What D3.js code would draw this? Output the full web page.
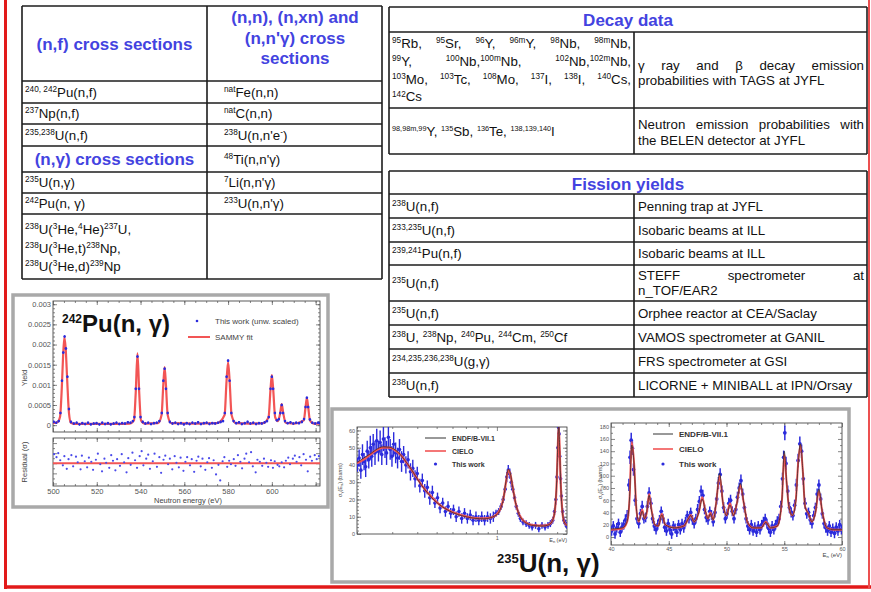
<!DOCTYPE html>
<html lang="en">
<head>
<meta charset="UTF-8">
<title>Nuclear data measurements</title>
<script src="https://d3js.org/d3.v7.min.js"></script>
<style>
  body { margin: 0; background: #fff; }
  svg { display: block; font-family: "Liberation Sans", Arial, sans-serif; }
  svg text { white-space: pre; fill: #111; }
  .head { font-weight: bold; }
  svg text.head, svg text.head tspan { fill: #4343e0; }
  .tick line { stroke: #555; stroke-width: 0.7; }
  .tick text { fill: #555; }
</style>
</head>
<body>
<div id="slide"></div>
<script>
// ---------- table contents ----------
var nfRows = ["^{240, 242}Pu(n,f)", "^{237}Np(n,f)", "^{235,238}U(n,f)"];
var inelRows = ["^{nat}Fe(n,n)", "^{nat}C(n,n)", "^{238}U(n,n'e^{-})", "^{48}Ti(n,n'γ)", "^{7}Li(n,n'γ)", "^{233}U(n,n'γ)"];
var ngRows = ["^{235}U(n,γ)", "^{242}Pu(n, γ)"];
var surrogateLines = ["^{238}U(^{3}He,^{4}He)^{237}U,", "^{238}U(^{3}He,t)^{238}Np,", "^{238}U(^{3}He,d)^{239}Np"];
var inelHeader = ["(n,n), (n,xn) and", "(n,n'γ) cross", "sections"];

var tagsNuclides = ["^{95}Rb, ^{95}Sr, ^{96}Y, ^{96m}Y, ^{98}Nb, ^{98m}Nb,",
                    "^{99}Y, ^{100}Nb,^{100m}Nb, ^{102}Nb,^{102m}Nb,",
                    "^{103}Mo, ^{103}Tc, ^{108}Mo, ^{137}I, ^{138}I, ^{140}Cs,",
                    "^{142}Cs"];
var tagsText = ["γ ray and β decay emission", "probabilities with TAGS at JYFL"];
var belenNuclides = "^{98,98m,99}Y, ^{135}Sb, ^{136}Te, ^{138,139,140}I";
var belenText = ["Neutron emission probabilities with", "the BELEN detector at JYFL"];

var fyReactions = ["^{238}U(n,f)", "^{233,235}U(n,f)", "^{239,241}Pu(n,f)", "^{235}U(n,f)", "^{235}U(n,f)",
                   "^{238}U, ^{238}Np, ^{240}Pu, ^{244}Cm, ^{250}Cf", "^{234,235,236,238}U(g,γ)", "^{238}U(n,f)"];
var fyFacilities = [["Penning trap at JYFL"], ["Isobaric beams at ILL"], ["Isobaric beams at ILL"],
                    ["STEFF spectrometer at", "n_TOF/EAR2"], ["Orphee reactor at CEA/Saclay"],
                    ["VAMOS spectrometer at GANIL"], ["FRS spectrometer at GSI"], ["LICORNE + MINIBALL at IPN/Orsay"]];

// ---------- 242Pu(n,g) yield ----------
var puTicksX = [500, 520, 540, 560, 580, 600];
var puTicksY = [0, 0.0005, 0.001, 0.0015, 0.002, 0.0025, 0.003];
var resTicksY = [-4, -2, 0, 2, 4];
var puFit = [[500,0.00005],[502,0.00007],[503.2,0.0002],[504,0.0009],[504.6,0.0017],[505.2,0.00218],[505.8,0.0019],
  [506.5,0.0011],[507.3,0.0003],[508.2,0.00006],[510,0.00003],[520,0.00003],[530,0.00003],[535,0.00004],[537,0.00012],
  [537.8,0.0008],[538.6,0.00178],[539.4,0.0008],[540.2,0.00012],[542,0.00004],[548,0.00005],[549.6,0.00025],[550.4,0.001],
  [551,0.00144],[551.6,0.001],[552.4,0.00025],[554,0.00005],[565,0.00004],[575,0.00005],[578.4,0.00025],[579.3,0.0011],
  [580,0.00156],[580.7,0.0011],[581.6,0.00025],[583.5,0.00005],[590,0.00004],[596,0.00005],[598.5,0.0002],[599.4,0.0009],
  [600,0.00124],[600.6,0.0009],[601.5,0.0002],[602.8,0.0001],[603.8,0.0003],[604.5,0.00052],[605.2,0.0003],[606.3,0.00006],
  [610,0.00004],[614.6,0.00012],[615.4,0.00045],[616,0.00067],[616.6,0.00045],[617.4,0.00012],[619,0.00004],[622,0.00004]];
var puData = [[500.3,0.00008],[501.5,0.00006],[502.6,0.0001],[503.4,0.0003],[504.1,0.0011],[504.7,0.0018],[505.3,0.0022],
  [505.9,0.0019],[506.6,0.0012],[507.3,0.0004],[508.2,0.00008],[509.5,0.00004],[510.8,0.00006],[512.1,0.00002],[513.4,0.00005],
  [514.7,0.00003],[516,0.00006],[517.3,0.00002],[518.6,0.00004],[519.9,0.00005],[521.2,0.00002],[522.5,0.00006],[523.8,0.00003],
  [525.1,0.00005],[526.4,0.00002],[527.7,0.00004],[529,0.00006],[530.3,0.00003],[531.6,0.00005],[532.9,0.00004],[534.2,0.00007],
  [535.4,0.00006],[536.5,0.0001],[537.2,0.0002],[537.8,0.0009],[538.6,0.0017],[539.3,0.0009],[540,0.0002],[541,0.00008],
  [542.2,0.00004],[543.5,0.00006],[544.8,0.00003],[546.1,0.00005],[547.4,0.00006],[548.6,0.0001],[549.7,0.0003],[550.4,0.0011],
  [551,0.0014],[551.6,0.0009],[552.4,0.0003],[553.4,0.00008],[554.6,0.00004],[555.9,0.00006],[557.2,0.00003],[558.5,0.00005],
  [559.8,0.00002],[561.1,0.00005],[562.4,0.00003],[563.7,0.00006],[565,0.00004],[566.3,0.00007],[567.6,0.00003],[568.9,0.00005],
  [570.2,0.00006],[571.5,0.00003],[572.8,0.00005],[574.1,0.00004],[575.4,0.00006],[576.6,0.00008],[577.7,0.0001],[578.5,0.0003],
  [579.3,0.0012],[580,0.0016],[580.7,0.0011],[581.5,0.0003],[582.5,0.0001],[583.7,0.00005],[585,0.00007],[586.3,0.00003],
  [587.6,0.00005],[588.9,0.00008],[590.2,0.00004],[591.5,0.00006],[592.8,0.00003],[594.1,0.00005],[595.4,0.00004],[596.7,0.00007],
  [597.8,0.0001],[598.6,0.0002],[599.4,0.0009],[600,0.0012],[600.6,0.0009],[601.4,0.0003],[602.3,0.00012],[603.2,0.00015],
  [603.9,0.0003],[604.5,0.0005],[605.1,0.0003],[606,0.0001],[607.2,0.00005],[608.5,0.00007],[609.8,0.00004],[611.1,0.00006],
  [612.4,0.00005],[613.7,0.00008],[614.7,0.00015],[615.4,0.00045],[616,0.00068],[616.6,0.00045],[617.4,0.00014],[618.5,0.00006],
  [619.8,0.00004],[621.1,0.00006],[621.9,0.00005]];
var puResidual = [[500.5,1.8],[501.6,1.2],[502.4,2.0],[503.3,0.6],[504.5,-0.4],[505.2,1.4],[506.3,-1.1],[507.1,0.8],[508.4,1.6],
  [509.2,-0.6],[510.5,1.3],[511.3,0.2],[512.6,-1.2],[513.2,1.5],[514.5,0.4],[515.6,-0.8],[516.4,1.1],[517.5,0.3],[518.3,-1.3],
  [519.6,0.7],[520.5,1.9],[521.6,-0.2],[522.4,-1.6],[523.5,0.9],[524.3,0.1],[525.7,-0.9],[526.6,1.6],[527.4,0.5],[528.5,-1.4],
  [529.3,0.8],[530.6,-0.5],[531.4,1.8],[532.5,0.2],[533.6,-1.8],[534.4,1.0],[535.5,-0.3],[536.3,2.1],[537.5,0.6],[538.4,-0.9],
  [539.6,1.4],[540.5,2.4],[541.3,-0.4],[542.6,0.9],[543.5,1.7],[544.3,-1.1],[545.6,0.4],[546.4,1.9],[547.5,-0.7],[548.6,1.2],
  [549.4,-1.9],[550.5,0.7],[551.3,1.5],[552.6,-0.2],[553.4,0.9],[554.5,-1.2],[555.6,1.4],[556.4,0.1],[557.5,-0.8],[558.3,1.1],
  [559.6,-1.5],[560.5,0.3],[561.3,1.2],[562.6,-0.4],[563.4,0.8],[564.5,-1.7],[565.6,0.5],[566.4,1.3],[567.5,-0.6],[568.3,0.9],
  [569.6,-1.3],[570.5,0.2],[571.3,1.0],[572.6,-0.9],[573.4,0.6],[574.5,-2.2],[575.6,-0.3],[576.4,-3.4],[577.5,0.4],[578.3,1.2],
  [579.6,-0.7],[580.5,0.5],[581.3,-0.2],[582.6,0.8],[583.4,-0.5],[584.5,1.6],[585.6,0.3],[586.4,-1.0],[587.5,0.9],[588.3,1.9],
  [589.6,0.2],[590.5,2.2],[591.3,-0.6],[592.6,-1.8],[593.4,0.7],[594.5,0.3],[595.6,-0.5],[596.4,0.9],[597.5,0.1],[598.3,-0.7],
  [599.6,0.6],[600.5,-0.9],[601.3,0.4],[602.6,-0.3],[603.4,-0.6],[604.5,0.2],[605.6,-0.8],[606.4,0.5],[607.5,1.1],[608.3,-0.2],
  [609.6,0.9],[610.5,1.5],[611.3,0.3],[612.6,1.2],[613.4,-0.4],[614.5,1.8],[615.6,0.7],[616.4,-1.6],[617.5,1.3],[618.3,0.5],
  [619.6,1.6],[620.5,0.8],[621.5,1.4]];

// ---------- 235U(n,g), low energy ----------
var uLowTicksY = [0, 10, 20, 30, 40, 50, 60];
var uLowCielo = [[0.2,41],[0.215,43],[0.23,45.5],[0.25,48.5],[0.27,50],[0.29,50],[0.31,48.5],[0.335,45],[0.36,40],[0.39,34],
  [0.42,28.5],[0.45,24],[0.49,19.5],[0.53,16],[0.58,13.5],[0.64,11.5],[0.7,10.2],[0.78,9.2],[0.86,9],[0.93,9.5],[0.99,11],
  [1.04,14.5],[1.08,21],[1.11,30],[1.14,37],[1.165,35],[1.2,27],[1.24,18],[1.29,11.5],[1.35,8],[1.43,6],[1.55,5],[1.7,4.8],
  [1.82,5.5],[1.9,8],[1.95,14],[1.99,30],[2.015,50],[2.035,62],[2.055,52],[2.08,32],[2.12,14],[2.17,7],[2.24,5]];
var uLowEndf = [[0.2,41.5],[0.23,46],[0.27,50.5],[0.29,50.3],[0.31,48.8],[0.36,40.2],[0.42,28.3],[0.49,19.2],[0.58,13.3],
  [0.7,10],[0.86,8.8],[0.99,10.8],[1.04,14.3],[1.08,21],[1.11,30.5],[1.14,37.5],[1.165,35.5],[1.2,27],[1.24,18],[1.29,11.4],
  [1.35,7.8],[1.43,5.8],[1.55,4.8],[1.7,4.6],[1.82,5.4],[1.9,8],[1.95,14.5],[1.99,31],[2.015,52],[2.035,63.5],[2.055,53],
  [2.08,32],[2.12,14],[2.17,7],[2.24,5]];
var uLowData = [[0.201,40,4],[0.205,44,5],[0.209,37,5],[0.213,46,6],[0.217,42,5],[0.221,39,6],[0.225,48,6],[0.229,43,5],
  [0.233,50,7],[0.237,45,6],[0.241,52,6],[0.246,47,7],[0.251,54,7],[0.256,48,6],[0.261,53,7],[0.266,46,6],[0.271,55,7],
  [0.276,50,6],[0.281,47,7],[0.287,56,7],[0.293,49,6],[0.299,45,6],[0.305,52,7],[0.312,47,6],[0.319,44,6],[0.326,49,6],
  [0.334,42,6],[0.342,46,5],[0.351,40,5],[0.36,43,5],[0.37,36,5],[0.38,38,5],[0.39,32,5],[0.4,35,4],[0.412,28,4],[0.424,31,4],
  [0.436,25,4],[0.449,27,4],[0.462,21,4],[0.476,24,4],[0.49,18,3],[0.505,21,3],[0.52,15,3],[0.536,18,3],[0.553,13,3],
  [0.57,16,3],[0.588,12,3],[0.607,14,3],[0.626,10,3],[0.646,13,3],[0.667,9,3],[0.689,12,3],[0.712,9,3],[0.736,11,3],
  [0.76,8,3],[0.786,10,3],[0.812,8,3],[0.84,10,3],[0.868,8,3],[0.898,10,3],[0.928,9,3],[0.96,10,3],[0.99,12,2],[1.02,13,2],
  [1.05,16,2],[1.075,20,2],[1.1,26,2],[1.12,33,3],[1.14,37,3],[1.16,35,3],[1.18,30,3],[1.2,26,2],[1.225,21,2],[1.25,16,2],
  [1.28,12,2],[1.31,9,2],[1.35,7,2],[1.4,6,2],[1.45,5,2],[1.5,4,2],[1.56,5,2],[1.62,3,2],[1.68,5,2],[1.74,4,2],[1.8,5,2],
  [1.85,6,2],[1.9,8,2],[1.94,13,2],[1.97,20,3],[1.995,33,3],[2.015,50,4],[2.03,62,4],[2.045,58,4],[2.06,45,3],[2.08,32,3],
  [2.1,22,3],[2.13,13,2],[2.16,8,2],[2.2,6,2],[2.235,5,2]];

// ---------- 235U(n,g), 40-60 eV ----------
var uHighTicksX = [40, 45, 50, 55, 60];
var uHighTicksY = [0, 20, 40, 60, 80, 100, 120, 140, 160, 180];
var uHighCielo = [[40,12],[41,14],[41.4,25],[41.6,60],[41.8,155],[42,120],[42.2,45],[42.4,25],[42.7,45],[42.9,30],[43.1,40],
  [43.3,70],[43.5,45],[43.8,20],[44.1,18],[44.4,38],[44.7,20],[45.5,15],[46.3,18],[46.7,30],[46.9,36],[47.2,25],[47.6,40],
  [47.9,65],[48.2,40],[48.4,30],[48.6,40],[48.85,28],[49.1,55],[49.4,100],[49.7,55],[50,35],[50.3,55],[50.6,35],[50.9,55],
  [51.2,85],[51.5,55],[51.8,25],[52.3,15],[53,15],[53.4,25],[53.8,15],[54.4,18],[54.8,60],[55,135],[55.2,90],[55.4,50],
  [55.7,35],[56,60],[56.2,120],[56.4,150],[56.6,110],[56.8,50],[57.1,38],[57.4,25],[57.7,40],[58,75],[58.3,40],[58.7,15],
  [59.3,12],[60,12]];
var uHighEndf = [[40,13],[41,15],[41.4,26],[41.6,62],[41.8,150],[42,118],[42.2,46],[42.4,26],[42.7,42],[42.9,30],[43.1,42],
  [43.3,68],[43.5,44],[43.8,20],[44.1,18],[44.4,36],[44.7,20],[45.5,15],[46.3,18],[46.7,30],[46.9,35],[47.2,25],[47.6,40],
  [47.9,62],[48.2,40],[48.4,30],[48.6,38],[48.85,28],[49.1,55],[49.4,104],[49.7,55],[50,35],[50.3,52],[50.6,35],[50.9,55],
  [51.2,88],[51.5,55],[51.8,25],[52.3,15],[53,15],[53.4,24],[53.8,15],[54.4,18],[54.8,62],[55,140],[55.2,92],[55.4,50],
  [55.7,35],[56,58],[56.2,118],[56.4,152],[56.6,110],[56.8,50],[57.1,38],[57.4,25],[57.7,40],[58,78],[58.3,40],[58.7,15],
  [59.3,12],[60,12]];
var uHighData = [[40.05,10,8],[40.2,18,8],[40.35,5,8],[40.5,15,8],[40.65,22,8],[40.8,8,8],[40.95,16,8],[41.1,20,8],[41.25,28,9],
  [41.4,35,9],[41.55,85,10],[41.65,130,11],[41.75,158,12],[41.85,145,11],[41.95,110,10],[42.1,60,9],[42.25,30,8],[42.4,22,8],
  [42.55,38,8],[42.7,50,9],[42.85,30,8],[43,32,8],[43.15,50,9],[43.3,72,9],[43.45,55,9],[43.6,30,8],[43.75,18,8],[43.9,12,8],
  [44.05,20,8],[44.2,28,8],[44.35,42,8],[44.5,30,8],[44.65,16,8],[44.8,10,8],[44.95,22,8],[45.1,12,8],[45.25,5,8],[45.4,18,8],
  [45.55,14,8],[45.7,8,8],[45.85,20,8],[46,12,8],[46.15,22,8],[46.3,15,8],[46.45,25,8],[46.6,35,8],[46.75,30,8],[46.9,40,8],
  [47.05,28,8],[47.2,22,8],[47.35,30,8],[47.5,45,9],[47.65,58,9],[47.8,75,9],[47.95,68,9],[48.1,45,8],[48.25,32,8],[48.4,28,8],
  [48.55,42,8],[48.7,36,8],[48.85,25,8],[49,40,8],[49.15,62,9],[49.3,88,10],[49.45,102,10],[49.6,75,9],[49.75,48,9],[49.9,30,8],
  [50.05,38,8],[50.2,55,9],[50.35,60,9],[50.5,42,8],[50.65,30,8],[50.8,45,8],[50.95,65,9],[51.1,80,9],[51.25,92,10],[51.4,70,9],
  [51.55,48,8],[51.7,30,8],[51.85,18,8],[52,12,8],[52.15,20,8],[52.3,10,8],[52.45,16,8],[52.6,8,8],[52.75,18,8],[52.9,12,8],
  [53.05,20,8],[53.2,25,8],[53.35,30,8],[53.5,22,8],[53.65,14,8],[53.8,8,8],[53.95,18,8],[54.1,12,8],[54.25,20,8],[54.4,26,8],
  [54.55,30,8],[54.7,50,9],[54.85,95,10],[54.95,130,11],[55.05,170,12],[55.15,120,11],[55.3,75,9],[55.45,48,9],[55.6,40,8],
  [55.75,35,8],[55.9,52,9],[56.05,85,10],[56.2,125,11],[56.35,152,12],[56.5,140,11],[56.65,95,10],[56.8,55,9],[56.95,38,8],
  [57.1,40,8],[57.25,28,8],[57.4,22,8],[57.55,35,8],[57.7,48,8],[57.85,70,9],[58,85,9],[58.15,62,9],[58.3,38,8],[58.45,22,8],
  [58.6,15,8],[58.75,10,8],[58.9,18,8],[59.05,8,8],[59.2,14,8],[59.35,6,8],[59.5,16,8],[59.65,10,8],[59.8,20,8],[59.95,12,8]];

// ---------- drawing ----------
var W = 871, H = 592;
var blue = "#2b2bdc", red = "#f25555";

var svg = d3.select("#slide").append("svg").attr("width", W).attr("height", H);
var defs = svg.append("defs");

// rich text: ^{..} superscript, _{..} subscript
function parseRich(s) {
  var out = [], re = /([\^_])\{([^}]*)\}/g, last = 0, m;
  while ((m = re.exec(s))) {
    if (m.index > last) out.push({t: s.slice(last, m.index), k: 0});
    out.push({t: m[2], k: m[1] == "^" ? 1 : -1});
    last = re.lastIndex;
  }
  if (last < s.length) out.push({t: s.slice(last), k: 0});
  return out;
}
function rich(g, x, y, s, size, o) {
  o = o || {};
  var ratio = o.ratio || 0.62;
  var t = g.append("text").attr("x", x).attr("y", y).style("font-size", size + "px");
  if (o.anchor) t.attr("text-anchor", o.anchor);
  if (o.cls) t.attr("class", o.cls);
  var shift = 0;
  parseRich(s).forEach(function(p) {
    var want = p.k == 1 ? -size * 0.36 : (p.k == -1 ? size * 0.22 : 0);
    var ts = t.append("tspan").text(p.t).attr("dy", want - shift);
    if (p.k == 1) ts.style("font-size", (size * ratio) + "px");
    if (p.k == -1) ts.style("font-size", (size * 0.72) + "px");
    shift = want;
  });
  return t;
}
function justify(g, x0, x1, y, s, size) {
  var words = s.split(" ");
  var nodes = words.map(function(w) { return rich(g, 0, y, w, size); });
  var widths = nodes.map(function(n) { return n.node().getComputedTextLength(); });
  var gap = words.length > 1 ? (x1 - x0 - d3.sum(widths)) / (words.length - 1) : 0;
  var x = x0;
  nodes.forEach(function(n, i) { n.attr("x", x); x += widths[i] + gap; });
}
function hline(g, x0, x1, y) {
  g.append("line").attr("x1", x0).attr("x2", x1).attr("y1", y).attr("y2", y)
    .attr("stroke", "#1c1c1c").attr("stroke-width", 1.6);
}
function vline(g, x, y0, y1) {
  g.append("line").attr("x1", x).attr("x2", x).attr("y1", y0).attr("y2", y1)
    .attr("stroke", "#1c1c1c").attr("stroke-width", 1.6);
}

var bodySize = 13.3, headSize = 17;

// left table
var lt = svg.append("g");
var ltY = [6, 81, 103, 124, 146, 172, 193, 214, 279];
ltY.forEach(function(y) { hline(lt, 22, 382, y); });
[22, 207, 382].forEach(function(x) { vline(lt, x, 6, 279); });
rich(lt, 114.5, 50, "(n,f) cross sections", headSize, {anchor: "middle", cls: "head"});
inelHeader.forEach(function(s, i) { rich(lt, 295, 23 + i * 20.5, s, headSize, {anchor: "middle", cls: "head"}); });
nfRows.forEach(function(s, i) { rich(lt, 25, (ltY[i + 1] + ltY[i + 2]) / 2 + 4.6, s, bodySize); });
rich(lt, 114.5, 165, "(n,γ) cross sections", headSize, {anchor: "middle", cls: "head"});
ngRows.forEach(function(s, i) { rich(lt, 25, (ltY[i + 5] + ltY[i + 6]) / 2 + 4.6, s, bodySize); });
inelRows.forEach(function(s, i) { rich(lt, 224, (ltY[i + 1] + ltY[i + 2]) / 2 + 4.6, s, bodySize); });
surrogateLines.forEach(function(s, i) { rich(lt, 25, 234 + i * 18.5, s, bodySize); });

// decay data table
var dt = svg.append("g");
[7, 32, 108, 154].forEach(function(y) { hline(dt, 389, 867, y); });
vline(dt, 389, 7, 154); vline(dt, 867, 7, 154); vline(dt, 634, 32, 154);
rich(dt, 628, 26, "Decay data", headSize, {anchor: "middle", cls: "head"});
tagsNuclides.forEach(function(s, i) {
  if (i < tagsNuclides.length - 1) justify(dt, 392, 631, 48 + i * 17.8, s, bodySize);
  else rich(dt, 392, 48 + i * 17.8, s, bodySize);
});
justify(dt, 638, 864, 70, tagsText[0], bodySize);
rich(dt, 638, 85, tagsText[1], bodySize);
rich(dt, 392, 135.5, belenNuclides, bodySize, {ratio: 0.55});
justify(dt, 638, 864, 128.5, belenText[0], bodySize);
rich(dt, 638, 144.5, belenText[1], bodySize);

// fission yields table
var ft = svg.append("g");
var ftY = [171, 194, 218, 242, 265, 301, 325, 349, 373, 397];
ftY.forEach(function(y) { hline(ft, 389, 867, y); });
vline(ft, 389, 171, 397); vline(ft, 867, 171, 397); vline(ft, 634, 194, 397);
rich(ft, 628, 190, "Fission yields", headSize, {anchor: "middle", cls: "head"});
fyReactions.forEach(function(s, i) { rich(ft, 392, (ftY[i + 1] + ftY[i + 2]) / 2 + 4.6, s, bodySize); });
fyFacilities.forEach(function(lines, i) {
  var mid = (ftY[i + 1] + ftY[i + 2]) / 2 + 4.6;
  if (lines.length == 1) rich(ft, 638, mid, lines[0], bodySize);
  else { justify(ft, 638, 864, mid - 7.5, lines[0], bodySize); rich(ft, 638, mid + 7.5, lines[1], bodySize); }
});

// ROOT-like frame with ticks on four sides
function rootFrame(g, x, y, o) {
  var xr = x.range(), yr = y.range();
  g.append("rect").attr("x", xr[0]).attr("y", yr[1]).attr("width", xr[1] - xr[0]).attr("height", yr[0] - yr[1])
    .attr("fill", "none").attr("stroke", "#333").attr("stroke-width", 0.8);
  function put(gen, tx, ty, vals, len, fmt) {
    if (!vals || !vals.length) return;
    var a = g.append("g").attr("transform", "translate(" + tx + "," + ty + ")")
      .call(gen.tickValues(vals).tickSize(-len).tickSizeOuter(0).tickPadding(o.pad || 2)
        .tickFormat(fmt || function() { return ""; }));
    a.select(".domain").remove();
    a.selectAll("text").filter(function() { return !this.textContent; }).remove();
    a.selectAll("text").style("font-size", o.fs + "px");
  }
  put(d3.axisBottom(x), 0, yr[0], o.xMajor, o.tick, o.xFmt);
  put(d3.axisBottom(x), 0, yr[0], o.xMinor, o.tick / 2);
  put(d3.axisTop(x), 0, yr[1], o.xMajor, o.tick);
  put(d3.axisTop(x), 0, yr[1], o.xMinor, o.tick / 2);
  put(d3.axisLeft(y), xr[0], 0, o.yMajor, o.tick, o.yFmt);
  put(d3.axisLeft(y), xr[0], 0, o.yMinor, o.tick / 2);
  put(d3.axisRight(y), xr[1], 0, o.yMajor, o.tick);
  put(d3.axisRight(y), xr[1], 0, o.yMinor, o.tick / 2);
}
var clipN = 0;
function clipTo(g, x, y) {
  var id = "clip" + (clipN++), xr = x.range(), yr = y.range();
  defs.append("clipPath").attr("id", id).append("rect")
    .attr("x", xr[0]).attr("y", yr[1]).attr("width", xr[1] - xr[0]).attr("height", yr[0] - yr[1]);
  return g.append("g").attr("clip-path", "url(#" + id + ")");
}
function drawPoints(g, data, x, y, r, c, ew) {
  g.append("g").selectAll("line").data(data.filter(function(d) { return d[2]; })).join("line")
    .attr("x1", function(d) { return x(d[0]); }).attr("x2", function(d) { return x(d[0]); })
    .attr("y1", function(d) { return y(d[1] - d[2]); }).attr("y2", function(d) { return y(d[1] + d[2]); })
    .attr("stroke", c).attr("stroke-width", ew || 1.1);
  g.append("g").selectAll("circle").data(data).join("circle")
    .attr("cx", function(d) { return x(d[0]); }).attr("cy", function(d) { return y(d[1]); })
    .attr("r", r).attr("fill", c);
}
function curve(g, data, x, y, col, w) {
  g.append("path").datum(data).attr("fill", "none").attr("stroke", col).attr("stroke-width", w)
    .attr("d", d3.line().x(function(d) { return x(d[0]); }).y(function(d) { return y(d[1]); }).curve(d3.curveMonotoneX));
}
function vtitle(g, x, y, s, size) {
  var gg = g.append("g").attr("transform", "translate(" + x + "," + y + ") rotate(-90)");
  rich(gg, 0, 0, s, size, {anchor: "middle"}).style("fill", "#444");
}

// 242Pu panel
var pu = svg.append("g");
pu.append("rect").attr("x", 13).attr("y", 295).attr("width", 315).attr("height", 212)
  .attr("fill", "#fff").attr("stroke", "#a9a9a9").attr("stroke-width", 3.5);
var xPu = d3.scaleLinear().domain([500, 622]).range([53, 320]);
var yPu = d3.scaleLinear().domain([-0.00017, 0.00308]).range([432, 301]);
var yRes = d3.scaleLinear().domain([-4.5, 5]).range([486, 438]);
rootFrame(pu, xPu, yPu, {fs: 7.5, tick: 4, xMajor: puTicksX.concat([620]), xMinor: d3.range(505, 622, 5),
  yMajor: puTicksY, yMinor: d3.range(0, 0.00305, 0.0001), yFmt: function(d) { return String(d); }});
rootFrame(pu, xPu, yRes, {fs: 7.5, tick: 4, pad: 3, xMajor: puTicksX.concat([620]), xMinor: d3.range(505, 622, 5),
  xFmt: function(d) { return d > 600 ? "" : d; }, yMajor: resTicksY, yMinor: [-3, -1, 1, 3]});
var puIn = clipTo(pu, xPu, yPu);
curve(puIn, puFit, xPu, yPu, red, 2.2);
drawPoints(puIn, puData.map(function(d) { return [d[0], d[1], 0.00003]; }), xPu, yPu, 1.3, blue);
var resIn = clipTo(pu, xPu, yRes);
resIn.append("line").attr("x1", 53).attr("x2", 320).attr("y1", yRes(0)).attr("y2", yRes(0))
  .attr("stroke", red).attr("stroke-width", 2);
drawPoints(resIn, puResidual, xPu, yRes, 1.1, "#4b4bea");
vtitle(pu, 27, 378, "Yield", 7.5);
vtitle(pu, 27, 462, "Residual (σ)", 7.5);
pu.append("text").attr("x", 188).attr("y", 503).attr("text-anchor", "middle").style("font-size", "7.5px")
  .style("fill", "#444").text("Neutron energy (eV)");
rich(pu, 62, 332, "^{242}Pu(n, γ)", 24, {ratio: 0.5}).style("font-weight", "bold");
pu.append("circle").attr("cx", 197).attr("cy", 321).attr("r", 1.3).attr("fill", blue);
pu.append("text").attr("x", 215).attr("y", 324).style("font-size", "8px").style("fill", "#444").text("This work (unw. scaled)");
pu.append("line").attr("x1", 188).attr("x2", 210).attr("y1", 337).attr("y2", 337).attr("stroke", red).attr("stroke-width", 2);
pu.append("text").attr("x", 215).attr("y", 340).style("font-size", "8px").style("fill", "#444").text("SAMMY fit");

// 235U panel
var up = svg.append("g");
up.append("rect").attr("x", 332).attr("y", 409).attr("width", 517).attr("height", 173)
  .attr("fill", "#fff").attr("stroke", "#a9a9a9").attr("stroke-width", 3.5);

function legend(g, x0, x1, ys, fs) {
  var labels = ["ENDF/B-VII.1", "CIELO", "This work"];
  g.append("line").attr("x1", x0).attr("x2", x1).attr("y1", ys[0]).attr("y2", ys[0]).attr("stroke", "#333").attr("stroke-width", 1);
  g.append("line").attr("x1", x0).attr("x2", x1).attr("y1", ys[1]).attr("y2", ys[1]).attr("stroke", red).attr("stroke-width", 1.6);
  g.append("circle").attr("cx", (x0 + x1) / 2).attr("cy", ys[2]).attr("r", 1.6).attr("fill", blue);
  labels.forEach(function(s, i) {
    g.append("text").attr("x", x1 + 6).attr("y", ys[i] + fs * 0.36).style("font-size", fs + "px")
      .style("font-weight", "bold").style("fill", "#333").text(s);
  });
}

var xL = d3.scaleLog().domain([0.2, 2.24]).range([357, 567]);
var yL = d3.scaleLinear().domain([0, 62]).range([534, 427]);
rootFrame(up, xL, yL, {fs: 5.5, tick: 4, pad: 2, xMajor: [1], xMinor: [0.2, 0.3, 0.4, 0.5, 0.6, 0.7, 0.8, 0.9, 2],
  xFmt: function(d) { return d; }, yMajor: uLowTicksY, yMinor: d3.range(2, 62, 2), yFmt: function(d) { return d; }});
var lIn = clipTo(up, xL, yL);
drawPoints(lIn, uLowData, xL, yL, 1.8, blue, 1.4);
curve(lIn, uLowCielo, xL, yL, red, 2.2);
curve(lIn, uLowEndf, xL, yL, "#222", 0.7);
legend(up, 425, 446, [438, 451, 464], 7);
vtitle(up, 342, 480, "σ_{γ}(E_{n}) (barns)", 5.5);
rich(up, 567, 541.5, "E_{n} (eV)", 5.5, {anchor: "end"}).style("fill", "#444");

var xR = d3.scaleLinear().domain([40, 60]).range([611, 842]);
var yR = d3.scaleLinear().domain([-13, 186]).range([545, 423]);
rootFrame(up, xR, yR, {fs: 5.5, tick: 4, pad: 2, xMajor: uHighTicksX, xMinor: d3.range(41, 60, 1),
  xFmt: function(d) { return d; }, yMajor: uHighTicksY, yMinor: d3.range(10, 186, 20), yFmt: function(d) { return d; }});
var rIn = clipTo(up, xR, yR);
drawPoints(rIn, uHighData, xR, yR, 1.9, blue, 1.5);
curve(rIn, uHighCielo, xR, yR, red, 2);
curve(rIn, uHighEndf, xR, yR, "#222", 0.7);
legend(up, 653, 673, [434, 449, 464], 8);
vtitle(up, 602, 482, "σ_{γ}(E_{n}) (barns)", 5.5);
rich(up, 842, 557, "E_{n} (eV)", 6, {anchor: "end"}).style("fill", "#444");

rich(up, 497, 572, "^{235}U(n, γ)", 26, {ratio: 0.5}).style("font-weight", "bold");

// red slide border
var border = svg.append("g").attr("stroke", "#e21a1a");
border.append("line").attr("x1", 5.5).attr("x2", 5.5).attr("y1", 0).attr("y2", 589).attr("stroke-width", 3);
border.append("line").attr("x1", 4).attr("x2", 871).attr("y1", 587).attr("y2", 587).attr("stroke-width", 3.5);
border.append("line").attr("x1", 869).attr("x2", 869).attr("y1", 0).attr("y2", 589).attr("stroke-width", 2).attr("stroke", "#ec5050");
</script>
</body>
</html>
